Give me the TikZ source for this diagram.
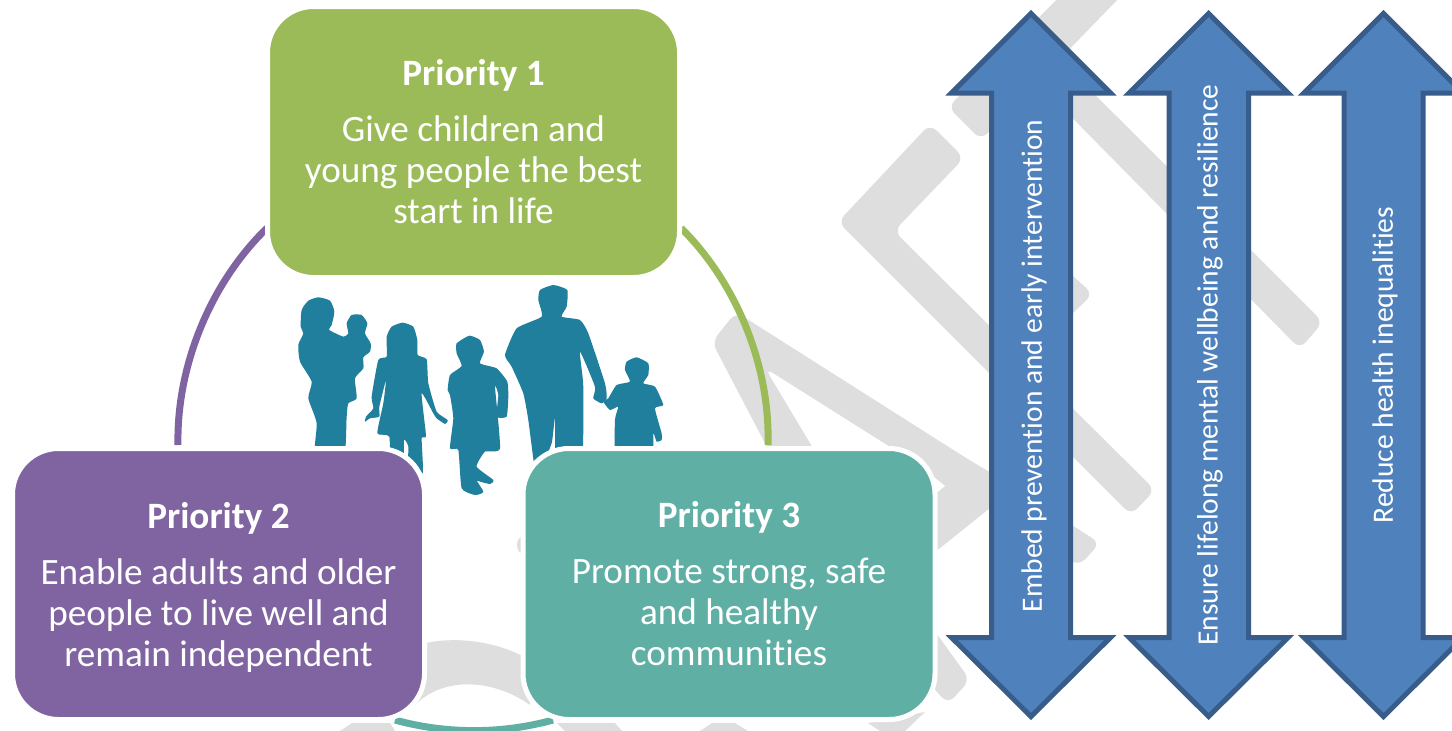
\documentclass[tikz,border=0pt]{standalone}
\usepackage{fontspec}
\setmainfont{Carlito}[Ligatures=NoCommon]
\tikzset{
  graypart/.style={fill=grayshape,rounded corners=9pt},
  box/.style={draw=white,line width=5pt,rounded corners=46pt,minimum width=412pt,minimum height=271pt,align=center,text=white,font=\fontsize{37.2}{41}\selectfont,inner sep=0pt},
  ring/.style={line width=7pt},
  dblarrow/.style={fill=arrowfill,draw=arrowline,line width=5pt,miter limit=10},
  arrowlabel/.style={rotate=90,text=white,font=\fontsize{29.5}{32}\selectfont,inner sep=0pt},
  person/.style={fill=people}
}
\definecolor{grayshape}{HTML}{DEDEDE}
\definecolor{boxgreen}{HTML}{9BBB59}
\definecolor{boxpurple}{HTML}{8064A2}
\definecolor{boxteal}{HTML}{5FAFA5}
\definecolor{arrowfill}{HTML}{4F81BD}
\definecolor{arrowline}{HTML}{385D8A}
\definecolor{people}{HTML}{1F7F9C}
\newcommand{\dblarrowpath}[3]{% tip x, left shaft, right shaft
  \draw[dblarrow] (#1,13.5) -- (#1+79.5,93) -- (#3,93) -- (#3,637.5) -- (#1+79.5,637.5) -- (#1,716.5) -- (#1-79.5,637.5) -- (#2,637.5) -- (#2,93) -- (#1-79.5,93) -- cycle;}
\begin{document}
\begin{tikzpicture}[x=1pt,y=-1pt]
\useasboundingbox (0,0) rectangle (1452,731);
\fill[white] (0,0) rectangle (1452,731);
% grey backdrop
\fill[graypart] (930,124) -- (964,158) -- (894,231) -- (1155,490) -- (1131,515) -- (838,222) -- cycle;
\fill[graypart] (948,107) -- (981,140) -- (1125,-8) -- (1095,-38) -- cycle;
\fill[graypart] (1323,322) -- (1300,349) -- (1030,75) -- (1050,50) -- cycle;
\fill[graypart] (1055,260) -- (1093,294) -- (1055,330) -- cycle;
\fill[graypart] (1100,543) -- (1079,566) -- (765,368) -- (850,510) -- (800,510) -- (712,342) -- (736,312) -- cycle;
\fill[grayshape] (900,420) -- (1000,478) -- (1000,500) -- (935,552) -- (900,590) -- cycle;
\fill[white] (930,474) -- (945,486) -- (930,498) -- cycle;
\fill[graypart] (900,600) -- (937,634) -- (970,680) -- (948,704) -- (890,640) -- cycle;
\fill[grayshape] (868,723) -- (925,712) -- (905,731) -- (880,731) -- cycle;
\fill[grayshape] (340,731) -- (352,723) -- (390,723) -- (395,731) -- cycle;
\fill[grayshape] (557,723) -- (615,723) -- (622,731) -- (565,731) -- cycle;
\fill[grayshape] (700,731) -- (712,723) -- (735,723) -- (748,731) -- cycle;
\fill[grayshape] (418,645) .. controls (445,637) and (490,637) .. (530,660) -- (530,705) .. controls (495,680) and (445,675) .. (415,705) -- cycle;
\fill[grayshape] (522,545) ellipse [x radius=5, y radius=8];
% people
\begin{scope}[xshift=280pt,yshift=-270pt,x=0.3333pt,y=-0.3333pt]
\fill[person] plot[smooth cycle,tension=.35] coordinates {(115,82)(150,92)(163,125)(155,165)(148,180)(190,200)(205,190)(200,160)(215,135)(245,135)(262,160)(255,190)(272,220)(270,245)(250,262)(250,295)(225,325)(230,385)(205,400)(200,440)(190,570)(105,570)(110,460)(85,385)(95,335)(60,275)(55,225)(70,190)(62,170)(65,120)(85,92)};
\fill[person] plot[smooth cycle,tension=.3] coordinates {(368,158)(400,170)(412,210)(413,255)(440,268)(445,340)(470,425)(503,450)(495,462)(470,445)(460,430)(425,370)(438,498)(425,505)(428,610)(385,610)(385,530)(372,510)(370,610)(332,610)(328,500)(292,490)(310,400)(318,330)(298,410)(298,440)(270,445)(255,455)(258,440)(280,415)(275,380)(295,270)(320,260)(320,200)(335,170)};
\fill[person] plot[smooth cycle,tension=.3] coordinates {(568,197)(600,210)(612,245)(600,280)(650,295)(682,335)(685,380)(680,440)(650,440)(655,375)(645,350)(660,535)(615,545)(590,590)(640,630)(630,642)(585,630)(575,610)(610,665)(585,675)(545,655)(535,540)(510,535)(520,445)(510,375)(503,360)(510,315)(545,288)(530,250)(530,220)};
\fill[person] plot[smooth cycle,tension=.3] coordinates {(820,45)(862,60)(860,110)(845,140)(900,150)(925,190)(975,340)(980,385)(965,400)(940,385)(945,350)(900,245)(910,350)(905,580)(830,580)(825,445)(815,520)(780,600)(765,600)(745,450)(730,370)(695,290)(675,255)(710,175)(785,140)(775,90)(780,60)};
\fill[person] plot[smooth cycle,tension=.3] coordinates {(1070,262)(1105,280)(1105,315)(1090,340)(1125,350)(1150,405)(1125,415)(1145,490)(1145,510)(1130,515)(1120,490)(1115,570)(1010,570)(1005,450)(1015,410)(990,420)(970,395)(985,385)(1010,345)(1050,335)(1035,300)(1040,275)};
\end{scope}
% ring connectors
\coordinate (ringA) at (681,228);
\coordinate (ringB) at (768,445);
\coordinate (ringC) at (267,228);
\coordinate (ringD) at (178,445);
\coordinate (ringE) at (395,720);
\coordinate (ringF) at (553,720);
\draw[ring,boxgreen] (ringA) to[bend left=23.5,looseness=.86] (ringB);
\draw[ring,boxpurple] (ringC) to[bend right=23.5,looseness=.86] (ringD);
\draw[ring,boxteal] (ringE) to[bend right=15.5,looseness=.86] (ringF);
% boxes
\node[box,fill=boxgreen] (p1) at (473.5,142) {{\bfseries Priority 1}\\[15pt]Give children and\\young people the best\\start in life};
\node[box,fill=boxpurple] (p2) at (218.5,584) {{\bfseries Priority 2}\\[15pt]Enable adults and older\\people to live well and\\\smash{remain independent}};
\node[box,fill=boxteal] (p3) at (729,584) {{\bfseries Priority 3}\\[15pt]Promote strong, safe\\and healthy\\communities};
% arrows
\dblarrowpath{1031}{991.5}{1070.5}
\dblarrowpath{1208.6}{1169}{1248.5}
\dblarrowpath{1383.5}{1344}{1423}
\node[arrowlabel] (l1) at (1034,366) {Embed prevention and early intervention};
\node[arrowlabel] (l2) at (1210,365) {Ensure lifelong mental wellbeing and resilience};
\node[arrowlabel] (l3) at (1385,365) {Reduce health inequalities};
\end{tikzpicture}
\end{document}
